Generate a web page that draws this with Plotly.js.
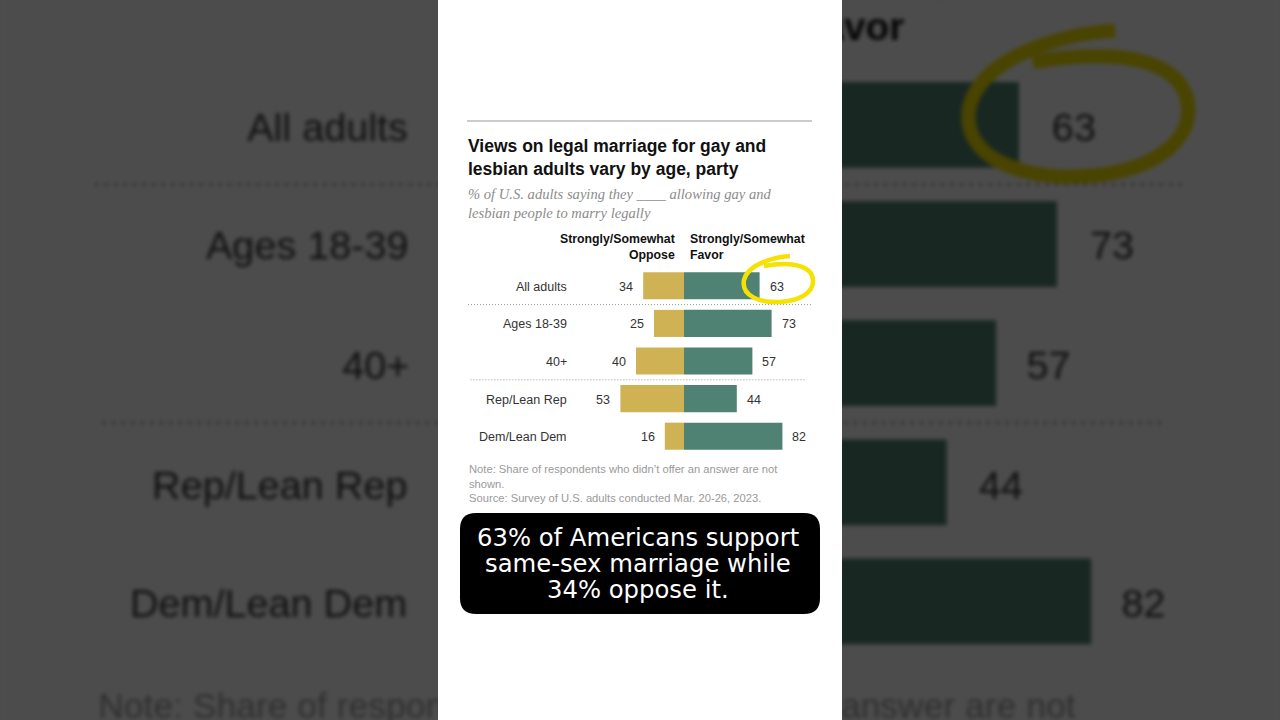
<!DOCTYPE html>
<html><head><meta charset="utf-8">
<script src="https://cdn.plot.ly/plotly-3.0.1.min.js"></script>
<style>
html,body{margin:0;padding:0;width:1280px;height:720px;overflow:hidden;background:#4c4c4c;}
#bg{position:absolute;left:438px;top:0;width:404px;height:720px;transform-origin:202px 360px;transform:scale(3.1683);filter:blur(0.7px) brightness(0.3);}
#chart{position:absolute;left:438px;top:0;width:404px;height:720px;}
</style></head><body>
<div id="bg"></div><div id="chart"></div>
<script>
// ---- data ----
const categories = ['All adults', 'Ages 18-39', '40+', 'Rep/Lean Rep', 'Dem/Lean Dem'];
const oppose = [34, 25, 40, 53, 16];
const favor = [63, 73, 57, 44, 82];
const seriesHeaders = ['Strongly/Somewhat<br>Oppose', 'Strongly/Somewhat<br>Favor'];
const titleText = 'Views on legal marriage for gay and<br>lesbian adults vary by age, party';
const subtitleText = '% of U.S. adults saying they ____ allowing gay and<br>lesbian people to marry legally';
const noteText = 'Note: Share of respondents who didn\u2019t offer an answer are not<br>shown.<br>Source: Survey of U.S. adults conducted Mar. 20-26, 2023.';
const captionLines = ['63% of Americans support', 'same-sex marriage while', '34% oppose it.'];
const groupBreaks = [0.5, 2.5];

// ---- styling / layout ----
const W = 404, H = 720, LEFT = 438, MT = 267, MB = 265;
const PH = H - MT - MB;
const OPPOSE_COLOR = '#cfb254', FAVOR_COLOR = '#4f8272';
const FONT = 'Liberation Sans, Arial, sans-serif';
const LABEL_X = -95.8, VALUE_GAP = 8, TEXT_DY = -1;
const PX = fx => (fx - LEFT) / W;
const PY = fy => 1 - (fy - MT) / PH;
function pathFrom(cmds) {
  return cmds.map(c => c[0] + ' ' + c.slice(1).reduce((a, v, i) => {
    a.push(i % 2 === 0 ? PX(v).toFixed(5) : PY(v).toFixed(5)); return a;
  }, []).join(',')).join(' ');
}
function roundRect(x0, y0, x1, y1, r) {
  return pathFrom([['M', x0 + r, y0], ['L', x1 - r, y0], ['Q', x1, y0, x1, y0 + r], ['L', x1, y1 - r],
    ['Q', x1, y1, x1 - r, y1], ['L', x0 + r, y1], ['Q', x0, y1, x0, y1 - r], ['L', x0, y0 + r],
    ['Q', x0, y0, x0 + r, y0]]) + ' Z';
}

function makeFigure() {
  const data = [
    {type: 'bar', orientation: 'h', y: categories, x: oppose.map(v => -v), marker: {color: OPPOSE_COLOR}, hoverinfo: 'skip'},
    {type: 'bar', orientation: 'h', y: categories, x: favor, marker: {color: FAVOR_COLOR}, hoverinfo: 'skip'}
  ];
  const lab = {size: 12.5, color: '#333', family: FONT};
  const annotations = [];
  categories.forEach((c, i) => {
    annotations.push({xref: 'x', yref: 'y', x: LABEL_X, y: c, xanchor: 'right', yanchor: 'middle', yshift: TEXT_DY,
      showarrow: false, text: c, font: lab});
    annotations.push({xref: 'x', yref: 'y', x: -oppose[i], y: c, xanchor: 'right', yanchor: 'middle', xshift: -VALUE_GAP, yshift: TEXT_DY,
      showarrow: false, text: String(oppose[i]), font: lab});
    annotations.push({xref: 'x', yref: 'y', x: favor[i], y: c, xanchor: 'left', yanchor: 'middle', xshift: VALUE_GAP, yshift: TEXT_DY,
      showarrow: false, text: String(favor[i]), font: lab});
  });
  annotations.push(
    {xref: 'paper', yref: 'paper', x: PX(466), y: PY(157.5), xanchor: 'left', yanchor: 'middle', align: 'left', showarrow: false,
      text: '<b>' + titleText + '</b>', font: {family: FONT, size: 17.5, color: '#111'}},
    {xref: 'paper', yref: 'paper', x: PX(466), y: PY(203.5), xanchor: 'left', yanchor: 'middle', align: 'left', showarrow: false,
      text: '<i>' + subtitleText + '</i>', font: {family: 'Liberation Serif, Georgia, serif', size: 14.6, color: '#8c8c8c'}},
    {xref: 'paper', yref: 'paper', x: PX(677), y: PY(246.5), xanchor: 'right', yanchor: 'middle', align: 'right', showarrow: false,
      text: '<b>' + seriesHeaders[0] + '</b>', font: {family: FONT, size: 12.3, color: '#111'}},
    {xref: 'paper', yref: 'paper', x: PX(688), y: PY(246.5), xanchor: 'left', yanchor: 'middle', align: 'left', showarrow: false,
      text: '<b>' + seriesHeaders[1] + '</b>', font: {family: FONT, size: 12.3, color: '#111'}},
    {xref: 'paper', yref: 'paper', x: PX(467), y: PY(483.5), xanchor: 'left', yanchor: 'middle', align: 'left', showarrow: false,
      text: noteText, font: {family: FONT, size: 11.2, color: '#9a9a9a'}}
  );
  captionLines.forEach((t, i) => annotations.push({xref: 'paper', yref: 'paper', x: PX(638), y: PY(537 + 26 * i),
    xanchor: 'center', yanchor: 'middle', showarrow: false, text: t, font: {family: 'DejaVu Sans, sans-serif', size: 24.3, color: '#fff'}}));

  const dots = {color: '#999', width: 1, dash: '1px,2px'};
  const shapes = [
    {type: 'line', xref: 'paper', yref: 'paper', x0: PX(467), x1: PX(812), y0: PY(121), y1: PY(121), line: {color: '#999', width: 1}},
    {type: 'line', xref: 'x', yref: 'y', x0: -180, x1: 107, y0: groupBreaks[0], y1: groupBreaks[0], line: dots},
    {type: 'line', xref: 'x', yref: 'y', x0: -178, x1: 102, y0: groupBreaks[1], y1: groupBreaks[1], line: dots},
    {type: 'path', xref: 'paper', yref: 'paper', layer: 'above', line: {color: '#f5e102', width: 4.5},
      path: pathFrom([['M', 790, 256], ['C', 774, 257, 748, 264, 744, 280], ['C', 741, 296, 760, 303, 780, 302],
        ['C', 800, 301, 814, 292, 813, 280], ['C', 812, 266, 793, 261, 764, 266]])},
    {type: 'path', xref: 'paper', yref: 'paper', layer: 'above', fillcolor: '#000', line: {width: 0},
      path: roundRect(460, 513, 820, 614, 16)}
  ];
  const layout = {
    width: W, height: H, margin: {l: 0, r: 0, t: MT, b: MB},
    paper_bgcolor: '#fff', plot_bgcolor: '#fff',
    barmode: 'relative', bargap: 0.28, showlegend: false, hovermode: false,
    font: {family: FONT, color: '#333'},
    xaxis: {range: [-205, 131.67], visible: false, fixedrange: true},
    yaxis: {type: 'category', range: [4.5, -0.5], visible: false, fixedrange: true},
    annotations, shapes
  };
  return {data, layout};
}
const cfg = {staticPlot: true, displayModeBar: false};
const f1 = makeFigure(); Plotly.newPlot('bg', f1.data, f1.layout, cfg);
const f2 = makeFigure(); Plotly.newPlot('chart', f2.data, f2.layout, cfg);
</script>
</body></html>
